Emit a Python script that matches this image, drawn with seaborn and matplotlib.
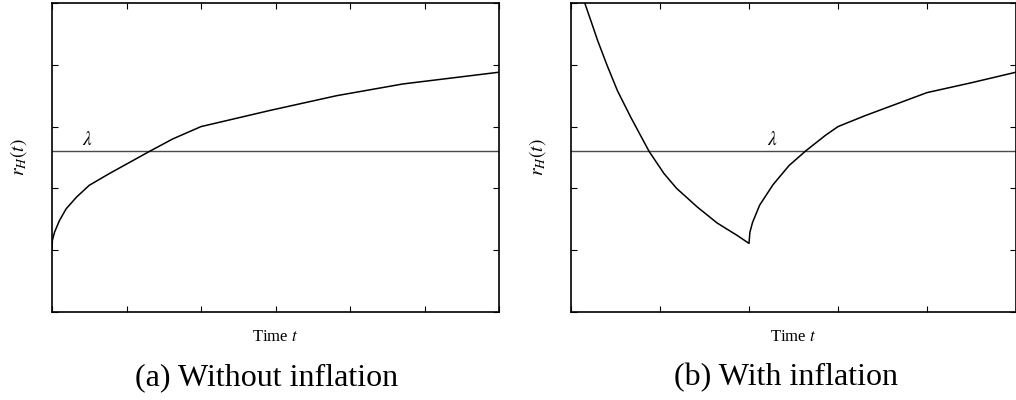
import numpy as np
import seaborn as sns
import matplotlib
matplotlib.use("Agg")
import matplotlib.pyplot as plt

# values
lam = 2.6

# (a) without inflation
t_a = [0, 0.005, 0.035, 0.10, 0.19, 0.33, 0.50, 0.77, 1.04, 1.31, 1.62, 2.0,
       2.92, 3.82, 4.71, 6.0]
r_a = [1.0, 1.16, 1.295, 1.48, 1.67, 1.86, 2.05, 2.24, 2.42, 2.60, 2.80, 3.0,
       3.26, 3.50, 3.69, 3.88]

# (b) with inflation
t_b = [0.157, 0.224, 0.30, 0.403, 0.522, 0.672, 0.877, 1.045, 1.187, 1.418, 1.642, 1.866, 2.0,
       2.01, 2.04, 2.12, 2.27, 2.45, 2.64, 2.86, 3.0,
       3.12, 3.31, 4.0, 4.5, 5.0]
r_b = [4.99, 4.71, 4.39, 4.0, 3.58, 3.15, 2.6, 2.24, 2.0, 1.70, 1.44, 1.24, 1.11,
       1.29, 1.45, 1.73, 2.06, 2.37, 2.61, 2.86, 3.0,
       3.07, 3.18, 3.55, 3.71, 3.88]

captions = ["(a) Without inflation", "(b) With inflation"]
xmax = [6, 5]
lam_label_t = [0.47, 2.26]

sns.set_theme(style="ticks")
plt.rcParams['font.family'] = ['Liberation Serif', 'DejaVu Serif']
plt.rcParams['mathtext.fontset'] = 'stix'
plt.rcParams['text.color'] = 'black'
plt.rcParams['axes.labelcolor'] = 'black'

fig = plt.figure(figsize=(10.16, 4.0), dpi=100)
W, H = 1016, 400
ax_a = fig.add_axes([52 / W, 88 / H, 447 / W, 309 / H])
ax_b = fig.add_axes([571 / W, 88 / H, 445 / W, 309 / H])

for i, (ax, t, r) in enumerate([(ax_a, t_a, r_a), (ax_b, t_b, r_b)]):
    ax.axhline(lam, color="#4a4a4a", lw=1.0, zorder=1)
    sns.lineplot(x=t, y=r, ax=ax, color="black", lw=1.1, sort=False, zorder=2,
                 solid_joinstyle="round")
    ax.text(lam_label_t[i], lam + 0.03, r"$\lambda$", ha="center", va="bottom", fontsize=14)
    ax.set_xlim(0, xmax[i])
    ax.set_ylim(0, 5)
    ax.set_xticks(np.arange(0, xmax[i] + 1))
    ax.set_yticks(np.arange(0, 6))
    ax.set_xticklabels([])
    ax.set_yticklabels([])
    ax.tick_params(direction="in", length=4.3, width=0.8, top=True, right=True, colors="black")
    for s in ax.spines.values():
        s.set_visible(True)
        s.set_color("black")
        s.set_linewidth(1.2)
    ax.set_xlabel(r"Time $t$", fontsize=12, labelpad=9)
    ax.set_ylabel(r"$r_H(t)$", fontsize=14, labelpad=13)

fig.text(267 / W, 1 - 378 / H, captions[0], ha="center", va="center", fontsize=23)
fig.text(786.5 / W, 1 - 378 / H, captions[1], ha="center", va="center", fontsize=23)

fig.savefig("out.png", dpi=100, facecolor="white")
